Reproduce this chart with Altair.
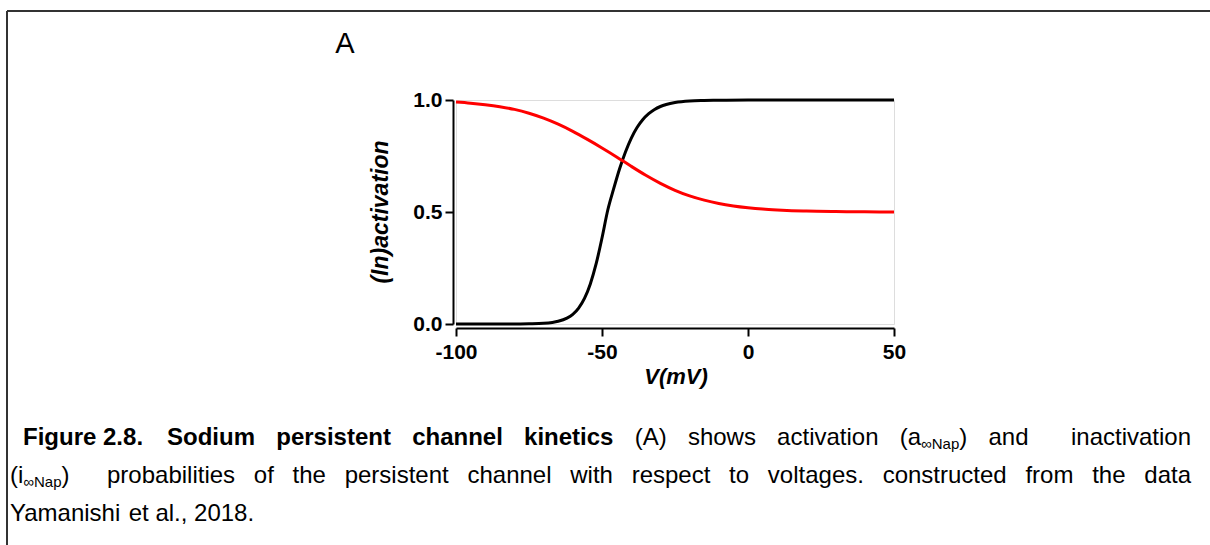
import altair as alt
import pandas as pd

# Steady-state gating of the persistent sodium channel (membrane potential in mV)
act_v = [-100, -90, -80, -75, -70, -67, -65, -62, -60, -58, -56, -54, -52, -50,
         -48, -46, -44, -42, -40, -38, -36, -34, -32, -30, -28, -25, -20, -15,
         -10, 0, 10, 20, 30, 40, 50]
act_p = [0.000, 0.000, 0.000, 0.001, 0.003, 0.007, 0.012, 0.026, 0.043, 0.071,
         0.114, 0.179, 0.269, 0.384, 0.510, 0.604, 0.692, 0.767, 0.829, 0.877,
         0.913, 0.939, 0.958, 0.971, 0.980, 0.989, 0.996, 0.998, 0.999, 1.000,
         1.000, 1.000, 1.000, 1.000, 1.000]

inact_v = [-100, -95, -90, -85, -80, -75, -70, -65, -60, -55, -50, -45, -40, -35,
           -30, -25, -20, -15, -10, -5, 0, 5, 10, 15, 20, 30, 40, 50]
inact_p = [0.991, 0.986, 0.979, 0.970, 0.958, 0.941, 0.919, 0.892, 0.860, 0.824,
           0.786, 0.746, 0.704, 0.664, 0.628, 0.597, 0.572, 0.553, 0.538, 0.527,
           0.519, 0.513, 0.509, 0.506, 0.504, 0.502, 0.501, 0.500]

gate_names = ["activation", "inactivation"]
gate_colors = ["#000000", "#ff0000"]

x_ticks = [-100, -50, 0, 50]
y_ticks = [0.0, 0.5, 1.0]

panel_label = "A"
x_title = "V(mV)"
y_title = "(In)activation"

# Caption: each line is a list of words, each word a list of (text, style) runs.
# style: "b" bold, "r" regular, "s" subscript. None widens the following gap,
# "TAB" jumps to the tab stop (words before it keep natural spacing).
caption_lines = [
    [[("Figure", "b")], [("2.8.", "b")], "TAB", [("Sodium", "b")], [("persistent", "b")],
     [("channel", "b")], [("kinetics", "b")], [("(A)", "r")], [("shows", "r")],
     [("activation", "r")], [("(a", "r"), ("\u221eNap", "s"), (")", "r")],
     [("and", "r")], None, [("inactivation", "r")]],
    [[("(i", "r"), ("\u221eNap", "s"), (")", "r")], None, [("probabilities", "r")],
     [("of", "r")], [("the", "r")], [("persistent", "r")], [("channel", "r")],
     [("with", "r")], [("respect", "r")], [("to", "r")], [("voltages.", "r")],
     [("constructed", "r")], [("from", "r")], [("the", "r")], [("data", "r")]],
    [[("Yamanishi", "r")], [("et", "r")], [("al.,", "r")], [("2018.", "r")]],
]

# ---- layout -------------------------------------------------------------
FONT = "Liberation Sans"
CANVAS_W, CANVAS_H = 1210, 545
LEFT, TOP = 456, 100
PLOT_W, PLOT_H = 438, 224

CAP_SIZE = 24
SUB_SIZE = 15
SUB_DROP = 4
CAP_LEFTS = [23, 10, 10]
CAP_TAB = 167
CAP_RIGHT = 1191
CAP_BASELINES = [445, 483, 521]

# Advance widths (1/1000 em) of the sans-serif face used in the caption
REG_W = {' ': 278, '(': 333, ')': 333, '.': 278, ',': 278, 'A': 667, 'N': 722,
         'Y': 667, 'a': 556, 'b': 556, 'c': 500, 'd': 556, 'e': 556, 'f': 278,
         'g': 556, 'h': 556, 'i': 222, 'k': 500, 'l': 222, 'm': 833, 'n': 556,
         'o': 556, 'p': 556, 'r': 333, 's': 500, 't': 278, 'u': 556, 'v': 500,
         'w': 722, 'y': 500, '\u221e': 713}
BOLD_W = {' ': 278, '.': 278, 'F': 611, 'S': 667, 'a': 556, 'c': 556, 'd': 611,
          'e': 556, 'g': 611, 'h': 611, 'i': 278, 'k': 556, 'l': 278, 'm': 889,
          'n': 611, 'o': 611, 'p': 611, 'r': 389, 's': 556, 't': 333, 'u': 611}
SPACE = 0.278 * CAP_SIZE


def run_width(text, style):
    table = BOLD_W if style == "b" else REG_W
    size = SUB_SIZE if style == "s" else CAP_SIZE
    return sum(table.get(ch, 556) for ch in text) / 1000.0 * size


def place(text, px, py, **mark_kw):
    """A single text mark positioned in canvas pixels."""
    return alt.Chart(pd.DataFrame({"t": [text]})).mark_text(font=FONT, **mark_kw).encode(
        x=alt.value(px - LEFT), y=alt.value(py - TOP), text="t:N")


def set_words(tokens, left, right, baseline, justify):
    """Lay out one run of words between left and right, return text layers."""
    words, units, pending = [], [], 0
    for tok in tokens:
        if tok is None:
            pending += 1
            continue
        if words:
            units.append(1 + pending)
        pending = 0
        words.append(tok)
    widths = [sum(run_width(t, s) for t, s in w) for w in words]
    gap = (right - left - sum(widths)) / sum(units) if justify and units else SPACE
    out = []
    x = left
    for i, word in enumerate(words):
        sx = x
        for t, s in word:
            size = SUB_SIZE if s == "s" else CAP_SIZE
            drop = SUB_DROP if s == "s" else 0
            out.append(place(t, sx, baseline + drop, align="left",
                             baseline="alphabetic", fontSize=size,
                             fontWeight="bold" if s == "b" else "normal",
                             color="black"))
            sx += run_width(t, s)
        x += widths[i] + (gap * units[i] if i < len(units) else 0)
    return out


def caption_layers():
    layers = []
    last = len(caption_lines) - 1
    for li, line in enumerate(caption_lines):
        left, base = CAP_LEFTS[li], CAP_BASELINES[li]
        if "TAB" in line:
            k = line.index("TAB")
            layers += set_words(line[:k], left, CAP_TAB, base, justify=False)
            layers += set_words(line[k + 1:], CAP_TAB, CAP_RIGHT, base, justify=True)
        else:
            layers += set_words(line, left, CAP_RIGHT, base, justify=li < last)
    return layers


# ---- curves ---------------------------------------------------------------
curves = pd.concat([
    pd.DataFrame({"V": act_v, "p": act_p, "gate": gate_names[0]}),
    pd.DataFrame({"V": inact_v, "p": inact_p, "gate": gate_names[1]}),
], ignore_index=True)

axis_style = dict(grid=False, domainWidth=2, domainColor="black", tickWidth=2,
                  tickColor="black", tickSize=8, labelFont=FONT, labelFontSize=21,
                  labelFontWeight="bold", labelColor="black", title=None,
                  labelOverlap=False, labelFlush=False)

lines = alt.Chart(curves).mark_line(strokeWidth=3, interpolate="monotone").encode(
    x=alt.X("V:Q", scale=alt.Scale(domain=[-100, 50], nice=False, zero=False),
            axis=alt.Axis(values=x_ticks, offset=4, labelPadding=5,
                          labelExpr="replace(datum.label, '\u2212', '-')",
                          **axis_style)),
    y=alt.Y("p:Q", scale=alt.Scale(domain=[0, 1], nice=False),
            axis=alt.Axis(values=y_ticks, format=".1f", offset=3, labelPadding=3,
                          **axis_style)),
    color=alt.Color("gate:N", scale=alt.Scale(domain=gate_names, range=gate_colors),
                    legend=None),
)

# ---- frame, titles, panel letter -----------------------------------------
frame_top = alt.Chart(pd.DataFrame({"k": [0]})).mark_rule(
    color="#333333", strokeWidth=2).encode(
    x=alt.value(7 - LEFT), x2=alt.value(CANVAS_W + 5 - LEFT), y=alt.value(11 - TOP))
frame_left = alt.Chart(pd.DataFrame({"k": [0]})).mark_rule(
    color="#333333", strokeWidth=2).encode(
    x=alt.value(7 - LEFT), y=alt.value(11 - TOP), y2=alt.value(CANVAS_H + 5 - TOP))

y_label = place(y_title, 381, 212, angle=270, align="center", baseline="middle",
                fontSize=23, fontWeight="bold", fontStyle="italic", color="black")
x_label = place(x_title, 676, 384, align="center", baseline="alphabetic",
                fontSize=22, fontWeight="bold", fontStyle="italic", color="black")
letter = place(panel_label, 345, 44, align="center", baseline="middle",
               fontSize=29, color="black")

chart = alt.layer(
    frame_top, frame_left, lines, y_label, x_label, letter, *caption_layers()
).properties(
    width=PLOT_W, height=PLOT_H,
    autosize=alt.AutoSizeParams(type="none"),
    padding={"left": LEFT, "top": TOP, "right": CANVAS_W - LEFT - PLOT_W,
             "bottom": CANVAS_H - TOP - PLOT_H},
).configure_view(stroke=None).configure(background="white")

chart.save("out.html", embed_options={"renderer": "svg", "actions": False})
